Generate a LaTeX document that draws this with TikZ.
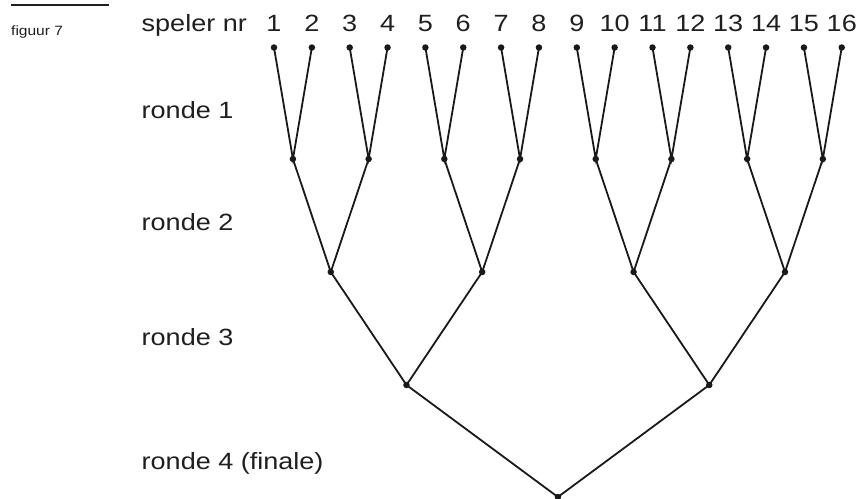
\documentclass[tikz,border=0pt]{standalone}
\usepackage{fontspec}
\setmainfont{Liberation Sans}[FakeStretch=1.15]
\begin{document}
\begin{tikzpicture}[x=1pt,y=-1pt,
  dot/.style={circle,fill=black!90,inner sep=0pt,minimum size=6.5pt},
  edge/.style={draw=black!90,line width=1.8pt},
  lbl/.style={inner sep=0pt,font=\fontsize{23.5}{27}\selectfont,text=black!88},
  figcap/.style={inner sep=0pt,font=\fontsize{13.5}{16}\selectfont,text=black!88}]
\clip (0,0) rectangle (858,498);
% caption
\coordinate (ca) at (11,5);
\coordinate (cb) at (109,5);
\draw[line width=1.1pt,black!88] (ca) -- (cb);
\node[figcap,anchor=base west] (fig) at (11,35) {figuur 7};
% labels
\node[lbl,anchor=base west] (sp) at (141.5,31) {speler nr};
\node[lbl,anchor=base west] (r1) at (141.5,118) {ronde 1};
\node[lbl,anchor=base west] (r2) at (141.5,230) {ronde 2};
\node[lbl,anchor=base west] (r3) at (141.5,345) {ronde 3};
\node[lbl,anchor=base west] (r4) at (141.5,469) {ronde 4 (finale)};
% players
\foreach \i in {1,...,16}{
  \pgfmathsetmacro{\px}{274+(\i-1)*37.85}
  \node[lbl,anchor=base] (n\i) at (\px,31) {\i};
  \node[dot] (p\i) at (\px,47.5) {};
}
% round 1
\foreach \k in {1,...,8}{
  \pgfmathsetmacro{\qx}{274+(2*\k-1.5)*37.85}
  \node[dot] (a\k) at (\qx,159) {};
  \pgfmathtruncatemacro{\l}{2*\k-1}
  \pgfmathtruncatemacro{\m}{2*\k}
  \draw[edge] (p\l.center) -- (a\k.center) -- (p\m.center);
}
% round 2
\foreach \k in {1,...,4}{
  \pgfmathsetmacro{\qx}{274+(4*\k-2.5)*37.85}
  \node[dot] (b\k) at (\qx,272) {};
  \pgfmathtruncatemacro{\l}{2*\k-1}
  \pgfmathtruncatemacro{\m}{2*\k}
  \draw[edge] (a\l.center) -- (b\k.center) -- (a\m.center);
}
% round 3
\foreach \k in {1,2}{
  \pgfmathsetmacro{\qx}{274+(8*\k-4.5)*37.85}
  \node[dot] (c\k) at (\qx,385) {};
  \pgfmathtruncatemacro{\l}{2*\k-1}
  \pgfmathtruncatemacro{\m}{2*\k}
  \draw[edge] (b\l.center) -- (c\k.center) -- (b\m.center);
}
% final
\node[dot] (f) at (557.9,497) {};
\draw[edge] (c1.center) -- (f.center) -- (c2.center);
\end{tikzpicture}
\end{document}
